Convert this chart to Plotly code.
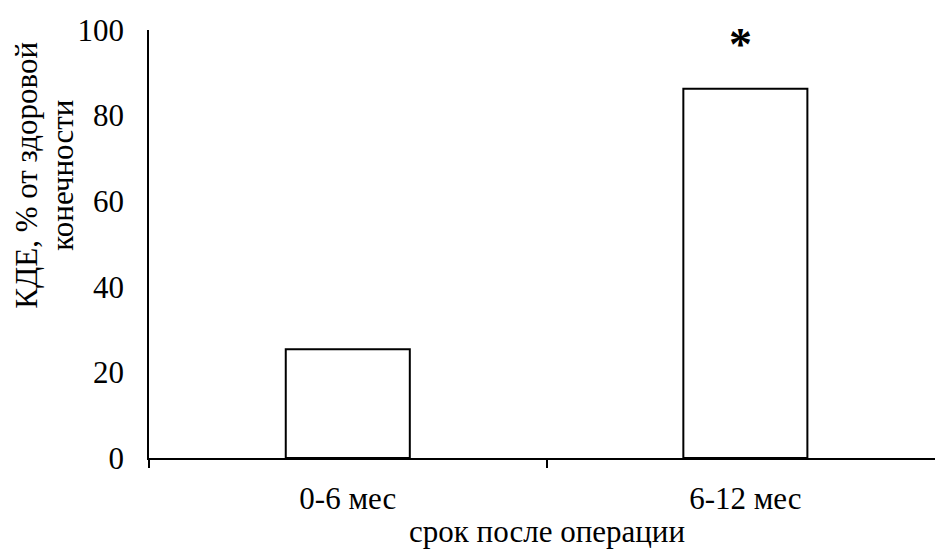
import plotly.graph_objects as go

# Data
periods = ["0-6 мес", "6-12 мес"]
kde_values = [25.4, 86.3]
significance = ["", "*"]
y_ticks = [0, 20, 40, 60, 80, 100]
y_title_lines = ["КДЕ, % от здоровой", "конечности"]
x_title = "срок после операции"

FONT = "Liberation Serif, Times New Roman, serif"
SIZE = 31

fig = go.Figure()
fig.add_trace(go.Bar(
    x=periods,
    y=kde_values,
    width=0.312,
    marker=dict(color="white", line=dict(color="black", width=2)),
    hoverinfo="x+y",
))

# significance marks above bars
for p, v, s in zip(periods, kde_values, significance):
    if s:
        fig.add_annotation(
            x=p, y=v, text="<b>" + s + "</b>", showarrow=False,
            yanchor="middle", yshift=44, xshift=-5,
            font=dict(family=FONT, size=46, color="black"),
        )

# y-axis title, two rotated lines
for xpos, line in zip([-0.1558, -0.1100], y_title_lines):
    fig.add_annotation(
        xref="paper", yref="paper",
        x=xpos, y=0.661,
        text=line, textangle=-90, showarrow=False,
        xanchor="center", yanchor="middle",
        font=dict(family=FONT, size=SIZE, color="black"),
    )

# x-axis title
fig.add_annotation(
    xref="paper", yref="paper",
    x=0.5064, y=-0.1787, yshift=3,
    text=x_title, showarrow=False,
    xanchor="center", yanchor="middle",
    font=dict(family=FONT, size=SIZE, color="black"),
)

fig.update_layout(
    width=935, height=550,
    margin=dict(l=149, r=0, t=30, b=92),
    paper_bgcolor="white", plot_bgcolor="white",
    showlegend=False,
    font=dict(family=FONT, size=SIZE, color="black"),
    xaxis=dict(
        type="category",
        range=[-0.5, 1.477],
        showline=True, linecolor="black", linewidth=1.5,
        ticks="outside", tickson="boundaries", ticklen=8,
        tickcolor="black", tickwidth=1.5,
        ticklabelstandoff=12,
        showgrid=False, zeroline=False,
    ),
    yaxis=dict(
        range=[0, 100],
        tickvals=y_ticks,
        showline=True, linecolor="black", linewidth=1.5,
        ticks="", ticklabelstandoff=17,
        showgrid=False, zeroline=False,
    ),
)

fig.write_html("out.html")
